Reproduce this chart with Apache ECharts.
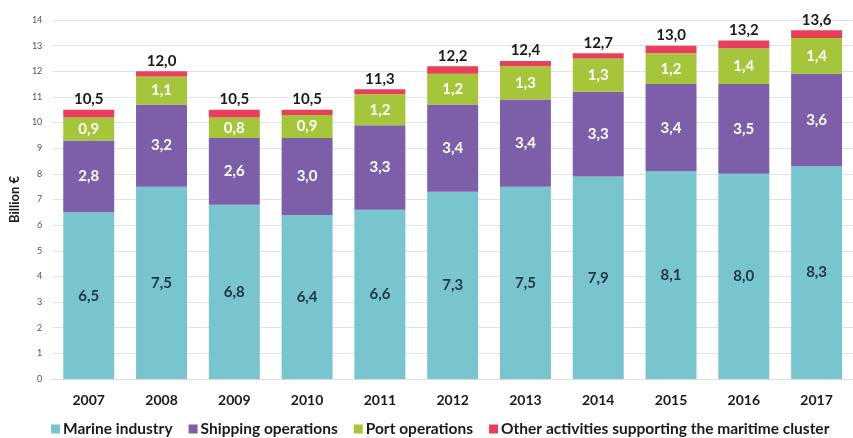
<!DOCTYPE html>
<html><head><meta charset="utf-8">
<script src="https://cdn.jsdelivr.net/npm/echarts@6/dist/echarts.min.js"></script>
<style>html,body{margin:0;padding:0;background:#fff}#c{width:853px;height:438px}</style>
</head><body><div id="c"></div>
<script>
const years = ['2007','2008','2009','2010','2011','2012','2013','2014','2015','2016','2017'];
const marine = [6.5,7.5,6.8,6.4,6.6,7.3,7.5,7.9,8.1,8.0,8.3];
const shipping = [2.8,3.2,2.6,3.0,3.3,3.4,3.4,3.3,3.4,3.5,3.6];
const port = [0.9,1.1,0.8,0.9,1.2,1.2,1.3,1.3,1.2,1.4,1.4];
const other = [0.3,0.2,0.3,0.2,0.2,0.3,0.2,0.2,0.3,0.3,0.3];
const totals = [10.5,12.0,10.5,10.5,11.3,12.2,12.4,12.7,13.0,13.2,13.6];
const yTicks = [0,1,2,3,4,5,6,7,8,9,10,11,12,13,14];

const fmt = v => v.toFixed(1).replace('.', ',');
const FONT = 'Lato';
const chart = echarts.init(document.getElementById('c'));
function seg(name, data, color, labelColor) {
  return {
    name, type: 'bar', stack: 'total', data, barCategoryGap: '30%',
    itemStyle: { color },
    label: labelColor ? { show: true, position: 'inside', color: labelColor, fontFamily: FONT,
      fontSize: 15, fontWeight: 'bold', formatter: p => fmt(p.value) } : { show: false },
    emphasis: { disabled: true }
  };
}
const otherSeries = seg('Other activities supporting the maritime cluster', other, '#e8405a', null);
otherSeries.label = { show: true, position: 'top', distance: 3, color: '#1a1a1a', fontFamily: FONT,
  fontSize: 15, fontWeight: 'bold', formatter: p => fmt(totals[p.dataIndex]) };
chart.setOption({
  animation: false,
  textStyle: { fontFamily: FONT },
  grid: { left: 49.5, top: 20, width: 814, bottom: 59, containLabel: false },
  legend: {
    top: 416, left: 46, itemWidth: 9, itemHeight: 9, itemGap: 16,
    icon: 'rect',
    textStyle: { fontFamily: FONT, fontSize: 15.5, fontWeight: 'bold', color: '#1a1a1a', padding: [0,0,0,-2] },
    data: ['Marine industry','Shipping operations','Port operations','Other activities supporting the maritime cluster']
  },
  xAxis: {
    type: 'category', data: years,
    axisLine: { show: true, lineStyle: { color: '#dcdcdc' } },
    axisTick: { show: false },
    axisLabel: { color: '#1a1a1a', fontFamily: FONT, fontSize: 14, fontWeight: 'bold', margin: 14 }
  },
  yAxis: {
    type: 'value', min: 0, max: 14, interval: 1,
    name: 'Billion €', nameLocation: 'middle', nameGap: 31, nameRotate: 90,
    nameTextStyle: { fontFamily: FONT, fontSize: 13, fontWeight: 'bold', color: '#1a1a1a' },
    axisLine: { show: false }, axisTick: { show: false },
    axisLabel: { color: '#555', fontSize: 9, fontFamily: FONT, margin: 10,
      formatter: v => yTicks.includes(v) ? String(v) : '' },
    splitLine: { lineStyle: { color: '#e2e2e2', width: 1 } }
  },
  series: [
    seg('Marine industry', marine, '#79c5cf', '#22384a'),
    seg('Shipping operations', shipping, '#7d5ea9', '#ffffff'),
    seg('Port operations', port, '#a5c63b', '#ffffff'),
    otherSeries
  ]
});
</script></body></html>
